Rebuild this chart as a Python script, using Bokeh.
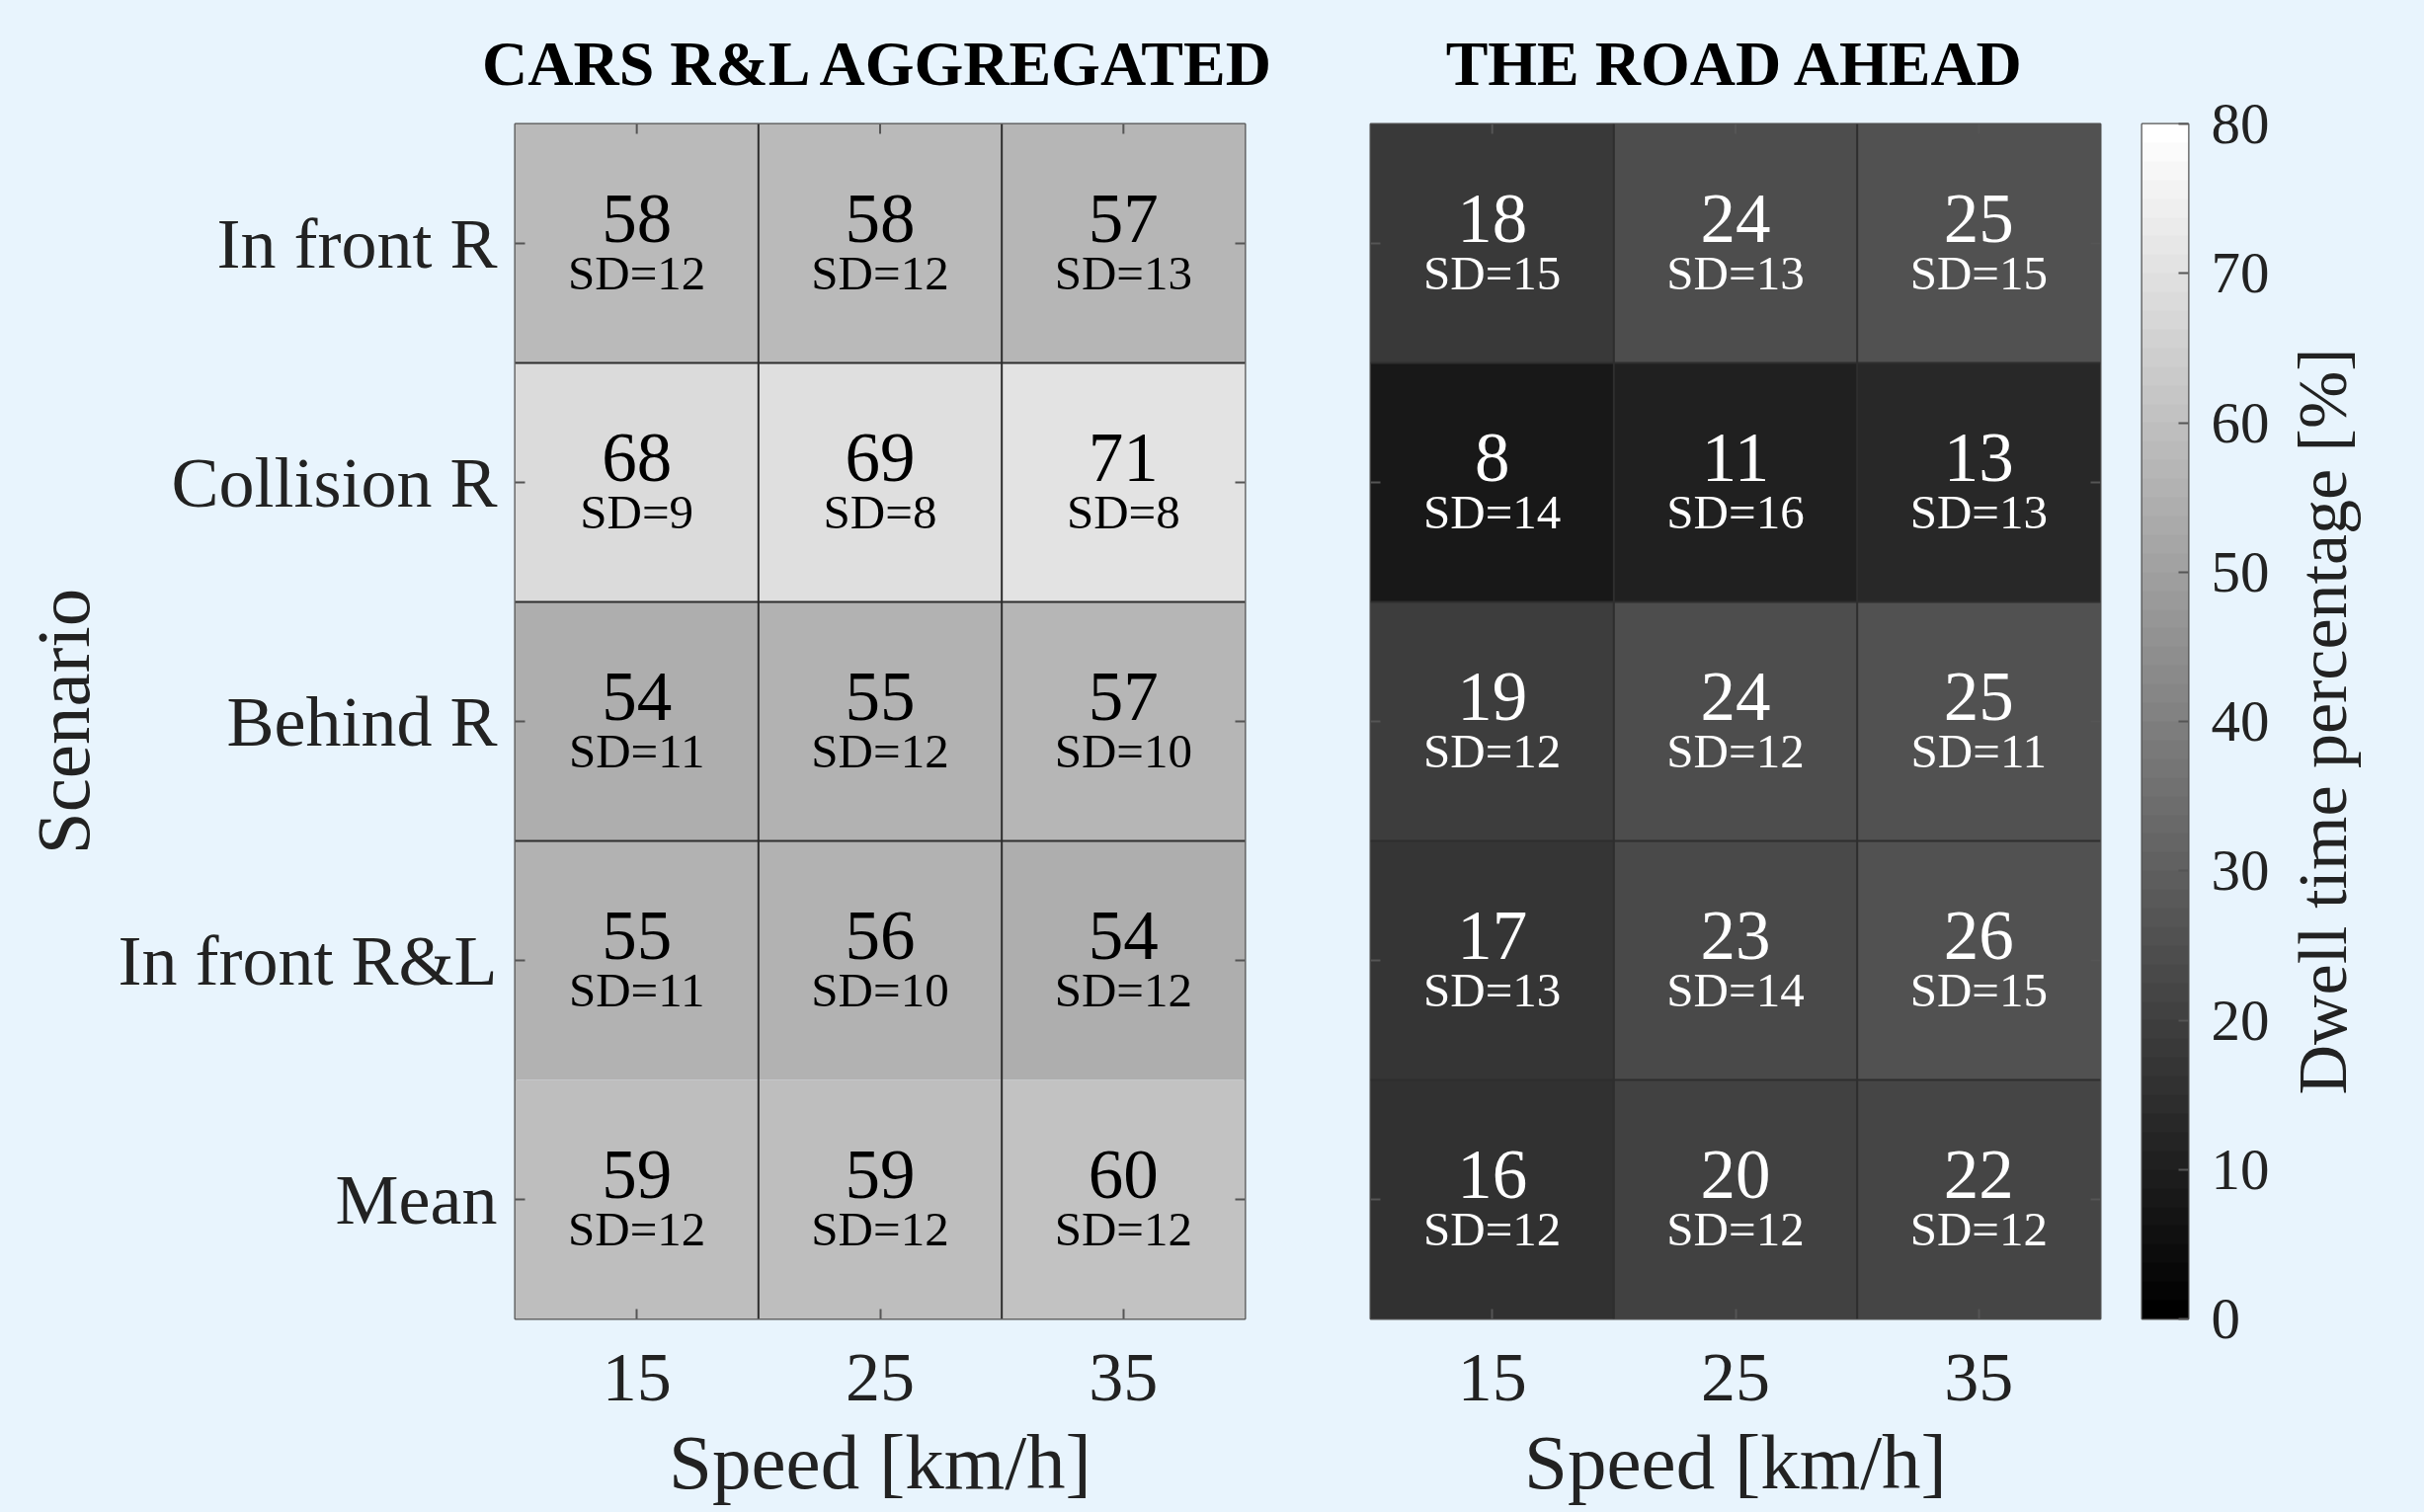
import numpy as np
from bokeh.plotting import figure
from bokeh.models import ColumnDataSource, LinearColorMapper, FactorRange, Range1d, FixedTicker
from bokeh.layouts import row
from bokeh.embed import file_html
from bokeh.resources import INLINE
from bokeh.core.properties import value

# ---------------- data ----------------
scenarios = ["In front R", "Collision R", "Behind R", "In front R&L", "Mean"]
speeds = ["15", "25", "35"]

cars_mean = [[58, 58, 57],
             [68, 69, 71],
             [54, 55, 57],
             [55, 56, 54],
             [59, 59, 60]]
cars_sd = [[12, 12, 13],
           [9, 8, 8],
           [11, 12, 10],
           [11, 10, 12],
           [12, 12, 12]]

road_mean = [[18, 24, 25],
             [8, 11, 13],
             [19, 24, 25],
             [17, 23, 26],
             [16, 20, 22]]
road_sd = [[15, 13, 15],
           [14, 16, 13],
           [12, 12, 11],
           [13, 14, 15],
           [12, 12, 12]]

cbar_ticks = [0, 10, 20, 30, 40, 50, 60, 70, 80]
cbar_low, cbar_high = 0, 80
cbar_title = "Dwell time percentage [%]"

# ---------------- style ----------------
BG = "#e8f4fd"
FONT = "Liberation Serif"
TXT = "#222222"
TICK_C = "#555555"
FRAME_W, FRAME_H = 739, 1210
TOP = 125
TICK = 10

levels = np.round(np.linspace(0, 255, 64)).astype(int)
palette = ["#%02x%02x%02x" % (v, v, v) for v in levels]
mapper = LinearColorMapper(palette=palette, low=cbar_low, high=cbar_high)


def make_panel(title, means, sds, text_color, show_y, skip_rows, min_left, min_right):
    xs, ys, ms, mts, sts = [], [], [], [], []
    for i, sc in enumerate(scenarios):
        for j, sp in enumerate(speeds):
            xs.append(sp)
            ys.append(sc)
            ms.append(means[i][j])
            mts.append(str(means[i][j]))
            sts.append("SD=%d" % sds[i][j])
    src = ColumnDataSource(dict(x=xs, y=ys, m=ms, mt=mts, sd=sts))

    p = figure(x_range=FactorRange(*speeds), y_range=FactorRange(*scenarios[::-1]),
               frame_width=FRAME_W, frame_height=FRAME_H,
               toolbar_location=None, output_backend="svg",
               min_border_top=TOP, min_border_left=min_left, min_border_right=min_right,
               min_border_bottom=0)
    p.background_fill_color = BG
    p.border_fill_color = BG
    p.outline_line_color = "#505050"
    p.outline_line_width = 2
    p.grid.visible = False

    p.title.text = title
    p.title.text_font = FONT
    p.title.text_font_size = "64px"
    p.title.text_font_style = "bold"
    p.title.text_color = "#000000"
    p.title.align = "center"
    p.title.standoff = 52

    p.rect(x="x", y="y", width=1, height=1, source=src,
           fill_color={"field": "m", "transform": mapper}, line_color=None)

    nx, ny = len(speeds), len(scenarios)
    # cell separators (synthetic categorical coordinates)
    vx = list(range(1, nx))
    p.segment(x0=vx, y0=[0] * len(vx), x1=vx, y1=[ny] * len(vx),
              line_color="#2e2e2e", line_width=2)
    hy = [k for k in range(1, ny) if k not in skip_rows]
    p.segment(x0=[0] * len(hy), y0=hy, x1=[nx] * len(hy), y1=hy,
              line_color="#2e2e2e", line_width=2)

    # inward tick marks on the top / right (and left when no labelled axis)
    dx = TICK / (FRAME_W / nx)
    dy = TICK / (FRAME_H / ny)
    cx = [j + 0.5 for j in range(nx)]
    cy = [i + 0.5 for i in range(ny)]
    p.segment(x0=cx, y0=[ny] * nx, x1=cx, y1=[ny - dy] * nx, line_color=TICK_C, line_width=2)
    p.segment(x0=[nx] * ny, y0=cy, x1=[nx - dx] * ny, y1=cy, line_color=TICK_C, line_width=2)
    if not show_y:
        p.segment(x0=[0] * ny, y0=cy, x1=[dx] * ny, y1=cy, line_color=TICK_C, line_width=2)

    p.text(x="x", y="y", text="mt", source=src, text_align="center",
           text_baseline="alphabetic", y_offset=-25, text_font=value(FONT),
           text_font_size="71px", text_color=text_color)
    p.text(x="x", y="y", text="sd", source=src, text_align="center",
           text_baseline="alphabetic", y_offset=30, text_font=value(FONT),
           text_font_size="49px", text_color=text_color)

    # bottom axis
    xa = p.xaxis[0]
    xa.axis_label = "Speed [km/h]"
    xa.axis_label_text_font = FONT
    xa.axis_label_text_font_size = "79px"
    xa.axis_label_text_font_style = "normal"
    xa.axis_label_text_color = TXT
    xa.axis_label_standoff = 16
    xa.major_label_text_font = FONT
    xa.major_label_text_font_size = "70px"
    xa.major_label_text_color = TXT
    xa.major_label_standoff = 36
    xa.major_tick_in = TICK
    xa.major_tick_out = 0
    xa.major_tick_line_color = TICK_C
    xa.major_tick_line_width = 2
    xa.axis_line_color = None

    ya = p.yaxis[0]
    if show_y:
        ya.axis_label = "Scenario"
        ya.axis_label_text_font = FONT
        ya.axis_label_text_font_size = "77px"
        ya.axis_label_text_font_style = "normal"
        ya.axis_label_text_color = TXT
        ya.axis_label_standoff = 10
        ya.major_label_text_font = FONT
        ya.major_label_text_font_size = "72px"
        ya.major_label_text_color = TXT
        ya.major_label_standoff = 18
        ya.major_tick_in = TICK
        ya.major_tick_out = 0
        ya.major_tick_line_color = TICK_C
        ya.major_tick_line_width = 2
        ya.axis_line_color = None
    else:
        ya.visible = False
    return p


p1 = make_panel("CARS R&L AGGREGATED", cars_mean, cars_sd, "#000000", True, [1], 521, 60)
p2 = make_panel("THE ROAD AHEAD", road_mean, road_sd, "#ffffff", False, [], 67, 20)

# ---------------- colour bar ----------------
p3 = figure(x_range=Range1d(0, 1), y_range=Range1d(cbar_low, cbar_high),
            frame_width=47, frame_height=FRAME_H, y_axis_location="right",
            toolbar_location=None, output_backend="svg",
            min_border_top=TOP, min_border_left=22, min_border_bottom=60,
            min_border_right=96)
p3.background_fill_color = BG
p3.border_fill_color = BG
p3.outline_line_color = "#505050"
p3.outline_line_width = 2
p3.grid.visible = False
p3.xaxis.visible = False
grad = np.linspace(cbar_low, cbar_high, 256).reshape(256, 1)
p3.image(image=[grad], x=0, y=cbar_low, dw=1, dh=cbar_high - cbar_low, color_mapper=mapper)
ca = p3.yaxis[0]
ca.ticker = FixedTicker(ticks=cbar_ticks)
ca.major_label_text_font = FONT
ca.major_label_text_font_size = "59px"
ca.major_label_text_color = TXT
ca.major_label_standoff = 23
ca.major_tick_in = TICK
ca.major_tick_out = 0
ca.major_tick_line_color = TICK_C
ca.major_tick_line_width = 2
ca.minor_tick_line_color = None
ca.axis_line_color = None

# colour-bar title in its own narrow frame (rotated, reading upwards)
p4 = figure(x_range=Range1d(0, 1), y_range=Range1d(0, 1),
            frame_width=80, frame_height=FRAME_H,
            toolbar_location=None, output_backend="svg",
            min_border_top=TOP, min_border_left=0, min_border_right=10,
            min_border_bottom=60)
p4.background_fill_color = BG
p4.border_fill_color = BG
p4.outline_line_color = None
p4.grid.visible = False
p4.axis.visible = False
p4.text(x=[0.5], y=[0.5], text=[cbar_title], angle=np.pi / 2,
        text_align="center", text_baseline="middle",
        text_font=value(FONT), text_font_size="70px", text_color=TXT)

layout = row(p1, p2, p3, p4)

html = file_html(layout, INLINE)
style = "<style>html,body{margin:0;padding:0;background-color:%s;}</style>" % BG
html = html.replace("</head>", style + "</head>", 1)
open("out.html", "w").write(html)
